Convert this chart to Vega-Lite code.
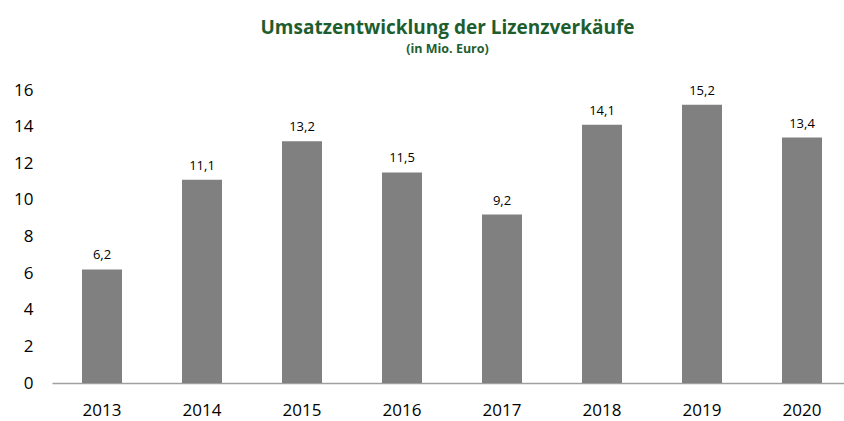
{
  "$schema": "https://vega.github.io/schema/vega-lite/v6.json",
  "width": 791,
  "height": 293,
  "autosize": {"type": "none"},
  "padding": {"left": 52, "top": 90, "right": 1, "bottom": 38},
  "config": {
    "locale": {"number": {"decimal": ",", "thousands": ".", "grouping": [3], "currency": ["", " €"]}},
    "view": {"stroke": null},
    "font": "Open Sans"
  },
  "title": {
    "text": "Umsatzentwicklung der Lizenzverkäufe",
    "subtitle": "(in Mio. Euro)",
    "anchor": "middle",
    "font": "Open Sans",
    "fontSize": 19,
    "fontWeight": "bold",
    "color": "#1e5e2e",
    "subtitleFont": "Open Sans",
    "subtitleFontSize": 12.5,
    "subtitleFontWeight": "bold",
    "subtitleColor": "#1e5e2e",
    "subtitlePadding": 5,
    "offset": 26
  },
  "data": {
    "values": [
      {"Jahr": "2013", "Umsatz": 6.2},
      {"Jahr": "2014", "Umsatz": 11.1},
      {"Jahr": "2015", "Umsatz": 13.2},
      {"Jahr": "2016", "Umsatz": 11.5},
      {"Jahr": "2017", "Umsatz": 9.2},
      {"Jahr": "2018", "Umsatz": 14.1},
      {"Jahr": "2019", "Umsatz": 15.2},
      {"Jahr": "2020", "Umsatz": 13.4}
    ]
  },
  "encoding": {
    "x": {
      "field": "Jahr",
      "type": "ordinal",
      "scale": {"range": [0, 800], "paddingInner": 0.6, "paddingOuter": 0.3},
      "axis": {
        "title": null,
        "labelAngle": 0,
        "ticks": false,
        "labelPadding": 19,
        "labelFontSize": 17,
        "labelColor": "#000000",
        "labelFont": "Open Sans",
        "domainColor": "#a0a0a0",
        "domainWidth": 1.5
      }
    },
    "y": {
      "field": "Umsatz",
      "type": "quantitative",
      "scale": {"domain": [0, 16], "nice": false},
      "axis": {
        "title": null,
        "values": [0, 2, 4, 6, 8, 10, 12, 14, 16],
        "format": "d",
        "grid": false,
        "domain": false,
        "ticks": false,
        "labelPadding": 19,
        "labelFontSize": 17,
        "labelColor": "#000000",
        "labelFont": "Open Sans"
      }
    }
  },
  "layer": [
    {"mark": {"type": "bar", "color": "#808080"}},
    {
      "mark": {"type": "text", "dy": -14, "fontSize": 13, "font": "Open Sans", "color": "#000000"},
      "encoding": {"text": {"field": "Umsatz", "type": "quantitative", "format": ".1f"}}
    }
  ]
}
